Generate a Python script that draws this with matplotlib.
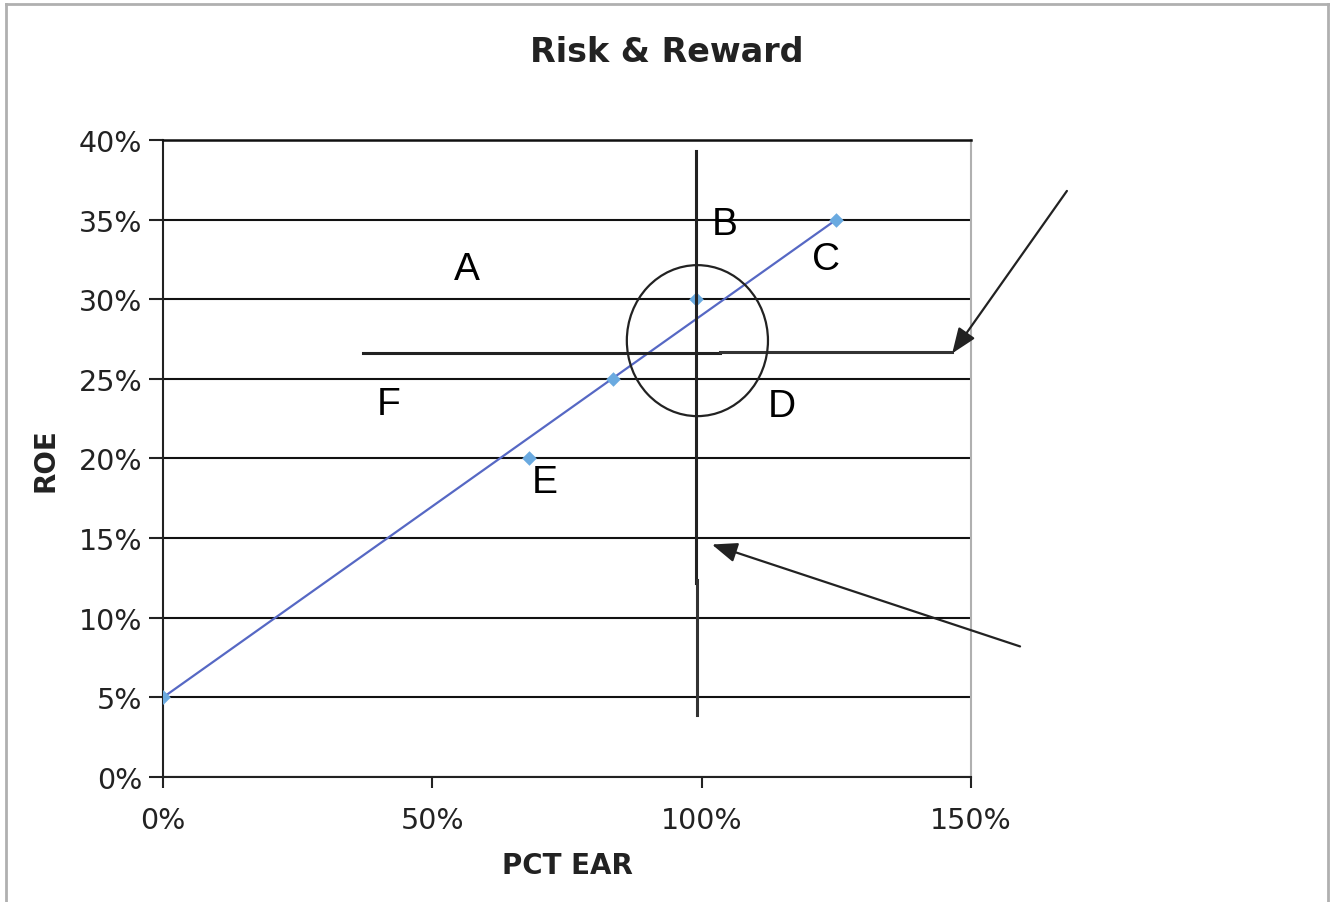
import matplotlib
matplotlib.use("Agg")
import matplotlib.pyplot as plt
from matplotlib.patches import Ellipse, FancyArrowPatch
from matplotlib.ticker import FuncFormatter, MultipleLocator
from matplotlib.lines import Line2D

# Data (PCT EAR in %, ROE in %)
pct_ear = [0, 68, 83.5, 99, 125]
roe = [5, 20, 25, 30, 35]

# Trend line endpoints (first and last data point)
trend_x = [pct_ear[0], pct_ear[-1]]
trend_y = [roe[0], roe[-1]]

# Annotation letters and their positions (data coords)
letters = ["A", "B", "C", "D", "E", "F"]
letter_x = [56.4, 104.3, 123.1, 114.9, 70.9, 41.8]
letter_y = [31.9, 34.7, 32.5, 23.3, 18.5, 23.4]

fig = plt.figure(figsize=(13.3, 9.03), dpi=100)
ax = fig.add_axes([0.1226, 0.1384, 0.7301 - 0.1226, 0.8439 - 0.1384])

ax.set_xlim(0, 150)
ax.set_ylim(0, 40)
ax.xaxis.set_major_locator(MultipleLocator(50))
ax.yaxis.set_major_locator(MultipleLocator(5))
ax.xaxis.set_major_formatter(FuncFormatter(lambda v, p: f"{v:.0f}%"))
ax.yaxis.set_major_formatter(FuncFormatter(lambda v, p: f"{v:.0f}%"))
ax.tick_params(axis="both", labelsize=20.5, colors="#222222", width=1.5)
ax.tick_params(axis="y", length=10, pad=5)
ax.tick_params(axis="x", length=8, pad=13)

ax.grid(axis="y", color="#111111", linewidth=1.5)
ax.set_axisbelow(True)
for s in ["left", "bottom"]:
    ax.spines[s].set_color("#222222")
    ax.spines[s].set_linewidth(1.5)
ax.spines["top"].set_color("#111111")
ax.spines["top"].set_linewidth(1.8)
ax.spines["right"].set_color("#b0b0b0")
ax.spines["right"].set_linewidth(1.5)

# Trend line and markers
ax.plot(trend_x, trend_y, color="#5668c4", linewidth=1.6, zorder=3)
ax.scatter(pct_ear, roe, marker="D", s=55, color="#6aaae0", zorder=4, linewidths=0)

# Drawn shapes
ax.plot([99.0, 99.0], [39.3, 12.2], color="#222222", linewidth=2.2, zorder=5)
ax.plot([99.2, 99.2], [12.4, 3.9], color="#333333", linewidth=2.2, zorder=5)
ax.plot([37.1, 103.4], [26.6, 26.6], color="#222222", linewidth=2.2, zorder=5)
ax.plot([103.4, 146.5], [26.7, 26.7], color="#333333", linewidth=2.2, zorder=5, clip_on=False)
ax.add_patch(Ellipse((99.2, 27.4), 26.2, 9.48, fill=False, edgecolor="#222222", linewidth=1.6, zorder=5))

arrow_kw = dict(arrowstyle="-|>,head_length=1.4,head_width=0.55", color="#222222",
                linewidth=1.6, mutation_scale=11, zorder=6)
for (x0, y0), (x1, y1) in [((167.8, 36.8), (146.5, 26.6)), ((159.1, 8.2), (101.9, 14.6))]:
    a = FancyArrowPatch((x0, y0), (x1, y1), shrinkA=0, shrinkB=0, clip_on=False, **arrow_kw)
    ax.add_patch(a)

for t, x, y in zip(letters, letter_x, letter_y):
    ax.text(x, y, t, fontsize=28, family="Liberation Sans", ha="center", va="center",
            color="black", zorder=7, clip_on=False)

fig.text(0.5015, 0.942, "Risk & Reward", fontsize=24, fontweight="bold",
         ha="center", va="center", color="#222222")
fig.text(0.427, 1 - 866 / 903, "PCT EAR", fontsize=20, fontweight="bold",
         ha="center", va="center", color="#222222")
fig.text(45 / 1330, 1 - 460 / 903, "ROE", fontsize=20, fontweight="bold",
         ha="center", va="center", rotation=90, color="#222222")

# Outer frame (top, left, right)
frame = dict(color="#b0b0b0", linewidth=2, transform=fig.transFigure)
fig.add_artist(Line2D([6 / 1330, 1329 / 1330], [1 - 5 / 903, 1 - 5 / 903], **frame))
fig.add_artist(Line2D([6 / 1330, 6 / 1330], [0, 1 - 5 / 903], **frame))
fig.add_artist(Line2D([1328 / 1330, 1328 / 1330], [0, 1 - 5 / 903], **frame))

fig.savefig("out.png", dpi=100)
